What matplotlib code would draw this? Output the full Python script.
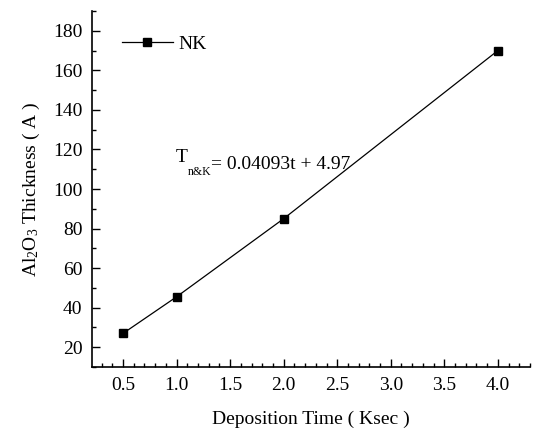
import matplotlib
matplotlib.use("Agg")
import matplotlib.pyplot as plt
from matplotlib.ticker import MultipleLocator

time_ksec = [0.5, 1.0, 2.0, 4.0]
thickness = [27.0, 45.5, 85.0, 170.0]
series_label = "NK"
fit_main = "T"
fit_sub = "n&K"
fit_rest = "= 0.04093t + 4.97"

plt.rcParams['font.family'] = ['Liberation Serif', 'DejaVu Serif']
plt.rcParams['mathtext.fontset'] = 'custom'
plt.rcParams['mathtext.rm'] = 'Liberation Serif'
plt.rcParams['mathtext.it'] = 'Liberation Serif:italic'

W, H = 533, 432
fig = plt.figure(figsize=(W/100, H/100), dpi=100)
ax = fig.add_axes([92/W, 1-367/H, (530-92)/W, (367-11)/H])

ax.plot(time_ksec, thickness, color='black', lw=0.9, marker='s', ms=6,
        label=series_label)

ax.set_xlim(0.21, 4.3)
ax.set_ylim(10, 190)
ax.xaxis.set_minor_locator(MultipleLocator(0.1))
ax.yaxis.set_minor_locator(MultipleLocator(10))
ax.set_yticks(range(20, 181, 20))
ax.set_xticks([0.5, 1.0, 1.5, 2.0, 2.5, 3.0, 3.5, 4.0])
ax.set_xticklabels(['0.5', '1.0', '1.5', '2.0', '2.5', '3.0', '3.5', '4.0'])

for s in ['top', 'right']:
    ax.spines[s].set_visible(False)
for s in ['left', 'bottom']:
    ax.spines[s].set_linewidth(1.2)

ax.tick_params(which='both', direction='in', width=1.0, labelsize=14)
ax.tick_params(which='major', length=6, pad=7)
ax.tick_params(which='minor', length=3)

ax.set_xlabel("Deposition Time ( Ksec )", fontsize=14, labelpad=12)
ax.set_ylabel(r"Al$_2$O$_3$ Thickness ( A )", fontsize=14, labelpad=8)

ax.legend(loc='center left', frameon=False, fontsize=14, handlelength=2.6,
          handletextpad=0.3, borderpad=0, borderaxespad=0,
          bbox_to_anchor=(122/W, 1-44/H), bbox_transform=fig.transFigure)

t1 = ax.text(0.19, 0.575, fit_main, transform=ax.transAxes, fontsize=14,
             va='baseline')
t2 = ax.annotate(fit_sub, xy=(1.0, 0.0), xycoords=t1, fontsize=8.5,
                 va='top', ha='left', xytext=(0.5, 0), textcoords='offset points')
ax.annotate(fit_rest, xy=(1.0, 1.0), xycoords=t2, fontsize=14,
            va='top', ha='left', xytext=(-0.5, 7.5), textcoords='offset points')

fig.savefig("out.png", dpi=100)
